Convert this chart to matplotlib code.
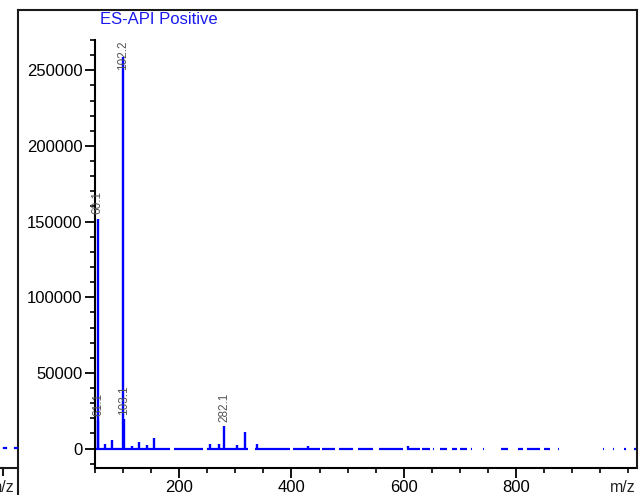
import matplotlib
matplotlib.use("Agg")
import matplotlib.pyplot as plt
from matplotlib.lines import Line2D
from matplotlib.ticker import MultipleLocator

plt.rcParams['font.family'] = ['Liberation Sans', 'DejaVu Sans']

# Picos del espectro (m/z, intensidad)
mz_picos = [54.5, 56, 68, 81, 100, 102, 116, 127.5, 142.5, 155.5,
            255, 270, 280, 302.7, 317.5, 338.3, 429.7, 608]
int_picos = [152000, 19000, 3300, 5500, 259000, 19500, 1700, 4400, 2500, 7300,
             3000, 3200, 15000, 2500, 11000, 3000, 2000, 1500]

# Etiquetas de picos: (indice del pico, texto)
etiquetas = [(0, "60.1"), (1, "61.1"), (4, "102.2"), (5, "103.1"), (12, "282.1")]

# Tramos de linea base (inicio, fin) en m/z
base_tramos = [(50, 184), (190, 243), (249, 323), (335, 398), (403, 451),
               (454, 478), (484, 510), (519, 546), (555, 599), (605, 629),
               (632, 647), (652, 654), (665, 677), (685, 694), (700, 712),
               (720, 722), (741, 743), (774, 786), (804, 813), (819, 843),
               (849, 860), (874, 876), (954, 957), (972, 974), (993, 995),
               (1010, 1013)]

titulo = "ES-API Positive"
azul = "#0000ff"

W, H = 640, 495
fig = plt.figure(figsize=(6.4, 4.95), dpi=100)


def fx(px):
    return px / W


def fy(py):
    return 1 - py / H


ax = fig.add_axes([fx(95), fy(468), fx(637) - fx(95), fy(40) - fy(468)])
ax.set_xlim(50, 1015.4)
ax.set_ylim(-12800, 270000)

for (a, b) in base_tramos:
    ax.plot([a, b], [0, 0], color=azul, lw=1.6, solid_capstyle='butt')
ax.vlines(mz_picos, 0, int_picos, color=azul, lw=1.7)

ymax = ax.get_ylim()[1]
for idx, txt in etiquetas:
    x = mz_picos[idx]
    y = int_picos[idx]
    if y + 22000 > ymax:
        ax.text(x, ymax, txt, rotation=90, ha='center', va='top',
                fontsize=8.5, color='#555555')
    else:
        ax.annotate(txt, (x, y), xytext=(0, 3), textcoords='offset points',
                    rotation=90, ha='center', va='bottom', fontsize=8.5,
                    color='#555555')

for s in ['top', 'right']:
    ax.spines[s].set_visible(False)
for s in ['left', 'bottom']:
    ax.spines[s].set_linewidth(1.5)

ax.set_xticks([200, 400, 600, 800])
ax.xaxis.set_minor_locator(MultipleLocator(50))
ax.set_yticks([0, 50000, 100000, 150000, 200000, 250000])
ax.yaxis.set_minor_locator(MultipleLocator(10000))
ax.tick_params(which='major', direction='out', length=7, width=1.3,
               labelsize=12, pad=2)
ax.tick_params(which='minor', direction='out', length=3.6, width=1.2)
ax.patch.set_alpha(0)

fig.text(fx(100), fy(19), titulo, color='#1a1aee', fontsize=12,
         ha='left', va='center')
fig.text(fx(636), fy(487), "m/z", color='#222222', fontsize=11.5,
         ha='right', va='center')

# marco exterior y restos del panel de la izquierda
lineas = [([18, 637], [10, 10]), ([18, 18], [10, 495]),
          ([637, 637], [10, 468]), ([0, 18], [468, 468]),
          ([3, 3], [468, 475])]
for xs, ys in lineas:
    fig.add_artist(Line2D([fx(v) for v in xs], [fy(v) for v in ys],
                          color='#1a1a1a', lw=1.5))
for px in [5, 16]:
    fig.add_artist(Line2D([fx(px - 1), fx(px + 1)], [fy(448), fy(448)],
                          color=azul, lw=1.6))
fig.text(fx(15), fy(487), "m/z", color='#222222', fontsize=11.5,
         ha='right', va='center')

fig.savefig("out.png", dpi=100)
